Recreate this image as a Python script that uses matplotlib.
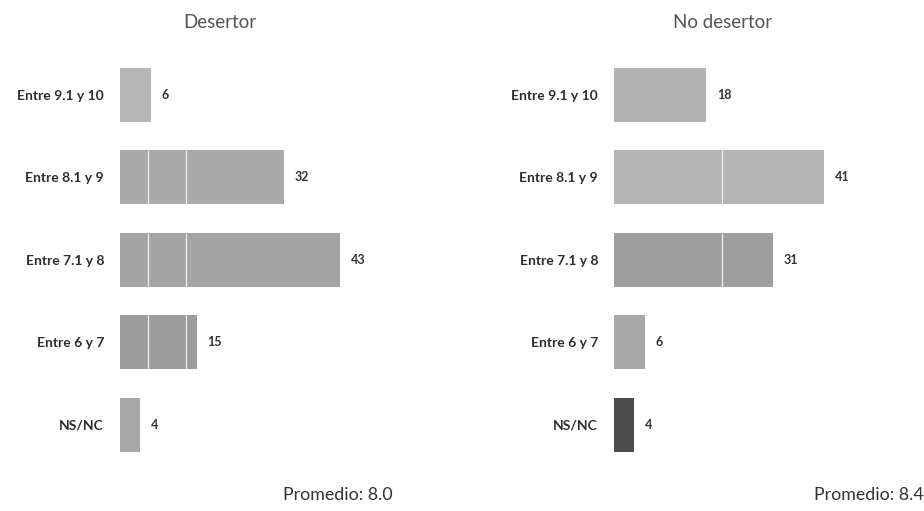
import matplotlib
matplotlib.use('Agg')
import matplotlib.pyplot as plt

# Datos
categorias = ['Entre 9.1 y 10', 'Entre 8.1 y 9', 'Entre 7.1 y 8', 'Entre 6 y 7', 'NS/NC']
desertor = [6, 32, 43, 15, 4]
no_desertor = [18, 41, 31, 6, 4]
titulos = ['Desertor', 'No desertor']
promedios = ['Promedio: 8.0', 'Promedio: 8.4']

colores_desertor = ['#b6b6b6', '#aaaaaa', '#a4a4a4', '#9d9d9d', '#a7a7a7']
colores_no_desertor = ['#b3b3b3', '#b4b4b4', '#9e9e9e', '#a8a8a8', '#4c4c4c']

plt.rcParams['font.family'] = ['Lato', 'DejaVu Sans']

W, H = 924, 511
fig = plt.figure(figsize=(W / 100, H / 100), dpi=100)
fig.patch.set_facecolor('white')

PX_POR_UNIDAD = 5.12
ANCHO_EJE = 300
ALTO_BARRA = 0.65


def panel(x0, valores, colores, titulo, promedio, titulo_x, prom_x, lineas):
    ax = fig.add_axes([x0 / W, 1 - 466 / H, ANCHO_EJE / W, 412.5 / H])
    y = list(range(len(categorias)))
    ax.barh(y, valores, height=ALTO_BARRA, color=colores, zorder=2)
    # líneas blancas finas que cruzan solo las barras
    for yi, v in zip(y, valores):
        for xv in lineas:
            if v > xv + 1:
                ax.vlines(xv, yi - ALTO_BARRA / 2, yi + ALTO_BARRA / 2,
                          color='white', lw=0.9, alpha=0.85, zorder=3)
    for yi, v in zip(y, valores):
        ax.text(v + 2.1, yi, str(v), va='center', ha='left',
                fontsize=9, color='#333333', fontweight='bold')
    ax.set_xlim(0, ANCHO_EJE / PX_POR_UNIDAD)
    ax.set_ylim(len(categorias) - 0.5, -0.5)
    ax.set_yticks(y)
    ax.set_yticklabels(categorias, fontsize=10, color='#2e2e2e', fontweight='bold')
    ax.tick_params(axis='y', length=0, pad=11.5)
    ax.set_xticks([])
    for s in ax.spines.values():
        s.set_visible(False)
    fig.text(titulo_x / W, 1 - 22 / H, titulo, ha='center', va='center',
             fontsize=13.5, color='#555555')
    fig.text(prom_x / W, 1 - 495 / H, promedio, ha='center', va='center',
             fontsize=12.8, color='#333333')


panel(120, desertor, colores_desertor, titulos[0], promedios[0], 220, 338, [5.5, 12.9])
panel(614, no_desertor, colores_no_desertor, titulos[1], promedios[1], 723, 869, [21.1])

fig.savefig('out.png', dpi=100, facecolor='white')
